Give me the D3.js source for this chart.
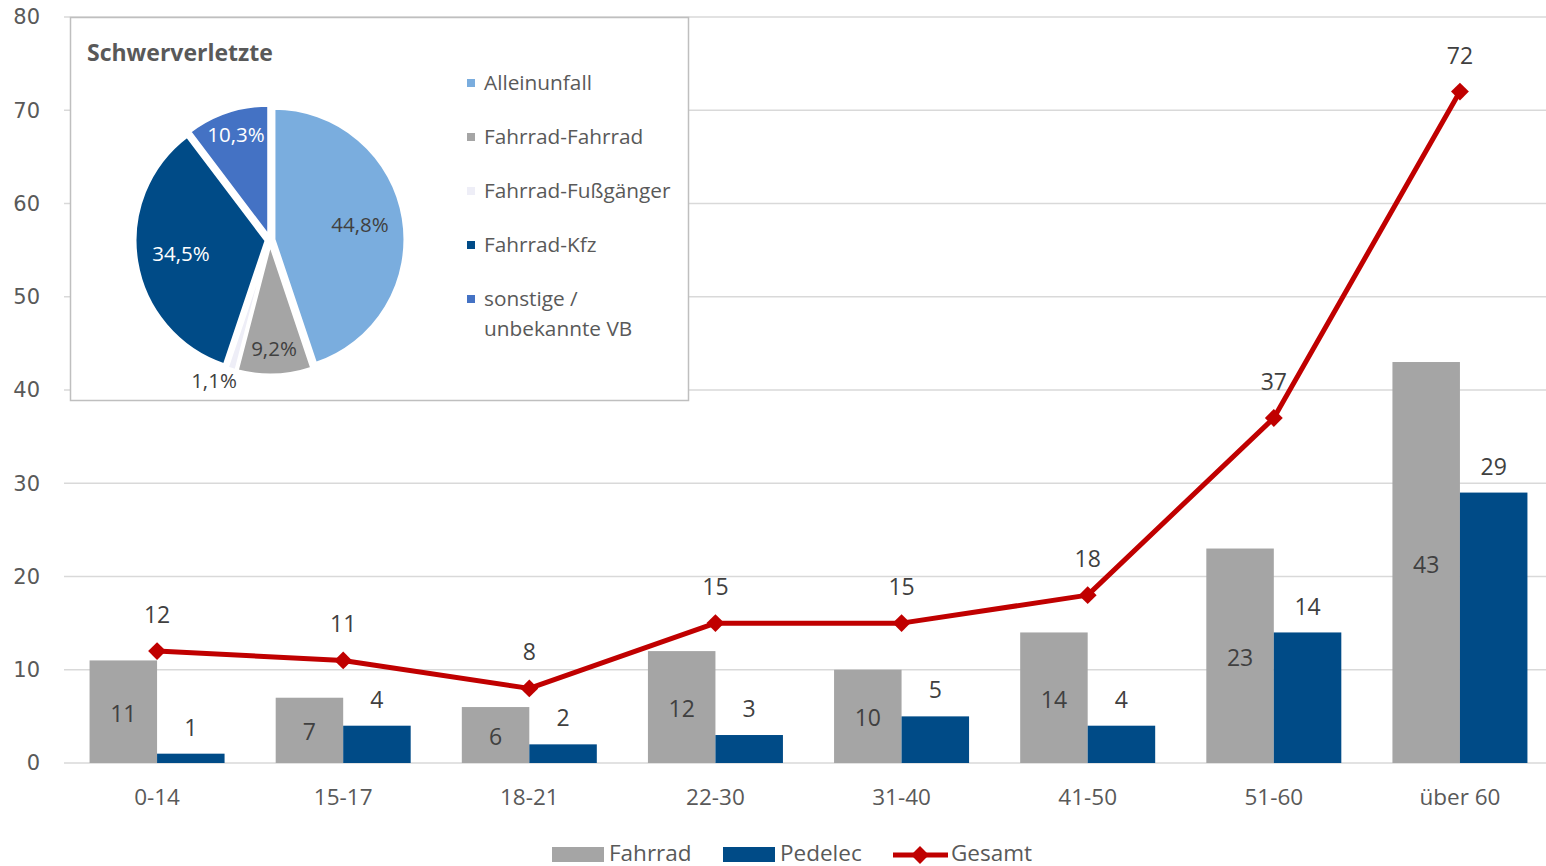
<!DOCTYPE html>
<html><head><meta charset="utf-8">
<script src="https://cdn.jsdelivr.net/npm/d3@7"></script>
<style>
body{margin:0;background:#fff;}
svg{display:block;}
text{font-family:"Open Sans",Lato,sans-serif;}
</style></head>
<body>
<svg id="c" width="1546" height="866"></svg>
<script>
const categories = ["0-14","15-17","18-21","22-30","31-40","41-50","51-60","über 60"];
const fahrrad = [11,7,6,12,10,14,23,43];
const pedelec = [1,4,2,3,5,4,14,29];
const gesamt = [12,11,8,15,15,18,37,72];
const yTicks = [0,10,20,30,40,50,60,70,80];
const pieLabels = ["Alleinunfall","Fahrrad-Fahrrad","Fahrrad-Fußgänger","Fahrrad-Kfz","sonstige / unbekannte VB"];
const pieValues = [44.8,9.2,1.1,34.5,10.3];
const pieTitle = "Schwerverletzte";

const C = {fahrrad:"#A5A5A5", pedelec:"#004B87", gesamt:"#C00000", grid:"#D9D9D9", text:"#595959", label:"#404040"};
const pieColors = ["#7AADDE","#A5A5A5","#EEEEF7","#004B87","#4472C4"];

const svg = d3.select("#c");
const x0 = 64, x1 = 1553, yTop = 17, yBot = 763;
const x = d3.scaleBand().domain(categories).range([x0,x1]);
const y = d3.scaleLinear().domain([0,80]).range([yBot,yTop]);
const bw = 67.5;

// grid
svg.append("g").selectAll("line").data(yTicks).join("line")
  .attr("x1",x0).attr("x2",1546).attr("y1",d=>y(d)).attr("y2",d=>y(d))
  .attr("stroke",C.grid).attr("stroke-width",1.5);
// y axis labels
svg.append("g").selectAll("text").data(yTicks).join("text")
  .attr("x",40).attr("y",d=>y(d)).attr("dy","0.35em").attr("text-anchor","end")
  .attr("fill",C.text).attr("font-size",21).style("font-family","'DejaVu Sans'")
  .text(d=>d);
// x axis labels
svg.append("g").selectAll("text").data(categories).join("text")
  .attr("x",d=>x(d)+x.bandwidth()/2).attr("y",797).attr("dy","0.35em").attr("text-anchor","middle")
  .attr("fill",C.text).attr("font-size",22.5).text(d=>d);

const cx = d=>x(d)+x.bandwidth()/2;
// bars
svg.append("g").selectAll("rect").data(categories).join("rect")
  .attr("x",d=>cx(d)-bw).attr("width",bw)
  .attr("y",(d,i)=>y(fahrrad[i])).attr("height",(d,i)=>yBot-y(fahrrad[i]))
  .attr("fill",C.fahrrad);
svg.append("g").selectAll("rect").data(categories).join("rect")
  .attr("x",d=>cx(d)).attr("width",bw)
  .attr("y",(d,i)=>y(pedelec[i])).attr("height",(d,i)=>yBot-y(pedelec[i]))
  .attr("fill",C.pedelec);
// bar labels
svg.append("g").selectAll("text").data(categories).join("text")
  .attr("x",d=>cx(d)-bw/2).attr("y",(d,i)=>(y(fahrrad[i])+yBot)/2+2).attr("dy","0.35em")
  .attr("text-anchor","middle").attr("fill",C.label).attr("font-size",23)
  .text((d,i)=>fahrrad[i]);
svg.append("g").selectAll("text").data(categories).join("text")
  .attr("x",d=>cx(d)+bw/2).attr("y",(d,i)=>y(pedelec[i])-26).attr("dy","0.35em")
  .attr("text-anchor","middle").attr("fill",C.label).attr("font-size",23)
  .text((d,i)=>pedelec[i]);
// line
const line = d3.line().x((d,i)=>cx(categories[i])).y(d=>y(d));
svg.append("path").datum(gesamt).attr("d",line).attr("fill","none")
  .attr("stroke",C.gesamt).attr("stroke-width",5).attr("stroke-linejoin","round");
svg.append("g").selectAll("path").data(gesamt).join("path")
  .attr("d",d3.symbol().type(d3.symbolSquare).size(160)).attr("transform",(d,i)=>`translate(${cx(categories[i])},${y(d)}) rotate(45)`)
  .attr("fill",C.gesamt);
svg.append("g").selectAll("text").data(gesamt).join("text")
  .attr("x",(d,i)=>cx(categories[i])).attr("y",d=>y(d)-36).attr("dy","0.35em")
  .attr("text-anchor","middle").attr("fill",C.label).attr("font-size",23).text(d=>d);

// bottom legend
const lg = svg.append("g");
lg.append("rect").attr("x",552).attr("y",847).attr("width",52).attr("height",15).attr("fill",C.fahrrad);
lg.append("text").attr("x",609).attr("y",853).attr("dy","0.35em").attr("fill",C.text).attr("font-size",22.5).text("Fahrrad");
lg.append("rect").attr("x",723).attr("y",847).attr("width",52).attr("height",15).attr("fill",C.pedelec);
lg.append("text").attr("x",780).attr("y",853).attr("dy","0.35em").attr("fill",C.text).attr("font-size",22.5).text("Pedelec");
lg.append("line").attr("x1",893).attr("x2",948).attr("y1",855).attr("y2",855).attr("stroke",C.gesamt).attr("stroke-width",5);
lg.append("path").attr("d",d3.symbol().type(d3.symbolSquare).size(160)).attr("transform","translate(920,855) rotate(45)").attr("fill",C.gesamt);
lg.append("text").attr("x",951).attr("y",853).attr("dy","0.35em").attr("fill",C.text).attr("font-size",22.5).text("Gesamt");

// pie inset
const box = svg.append("g");
box.append("rect").attr("x",70.5).attr("y",17.5).attr("width",618).attr("height",383)
  .attr("fill","#fff").attr("stroke","#BFBFBF").attr("stroke-width",1.5);
box.append("text").attr("x",87).attr("y",53).attr("dy","0.35em").attr("fill",C.text)
  .attr("font-size",23).attr("font-weight","bold").text(pieTitle);
const pcx = 270, pcy = 240, r = 131;
const pie = d3.pie().sort(null).value(d=>d)(pieValues);
const arc = d3.arc().innerRadius(0).outerRadius(r);
const explode = 4;
const pg = box.append("g").attr("transform",`translate(${pcx},${pcy})`);
pg.selectAll("path").data(pie).join("path")
  .attr("transform",d=>{const a=(d.startAngle+d.endAngle)/2; return `translate(${Math.sin(a)*explode},${-Math.cos(a)*explode})`;})
  .attr("d",arc).attr("fill",(d,i)=>pieColors[i]).attr("stroke","#fff").attr("stroke-width",3).attr("stroke-linejoin","round");
const pieLabelPos = [[360,225],[274,349],[214,381],[181,254],[236,135]];
const pieLabelCol = [C.label,C.label,C.label,"#fff","#fff"];
box.selectAll("text.pl").data(pie).join("text").attr("class","pl")
  .attr("x",(d,i)=>pieLabelPos[i][0]).attr("y",(d,i)=>pieLabelPos[i][1]).attr("dy","0.35em")
  .attr("text-anchor","middle").attr("fill",(d,i)=>pieLabelCol[i]).attr("font-size",20.5)
  .text(d=>d3.format(".1f")(d.data).replace(".",",")+"%");
// pie legend
const legY = [83,137,191,245,299];
pieLabels.forEach((l,i)=>{
  box.append("rect").attr("x",467).attr("y",legY[i]-4).attr("width",8).attr("height",8).attr("fill",pieColors[i]);
  const t = box.append("text").attr("x",484).attr("y",legY[i]).attr("dy","0.35em").attr("fill",C.text).attr("font-size",20.8);
  if(i===4){
    t.append("tspan").attr("x",484).text("sonstige /");
    t.append("tspan").attr("x",484).attr("dy",30).text("unbekannte VB");
  } else t.text(l);
});
</script>
</body></html>
